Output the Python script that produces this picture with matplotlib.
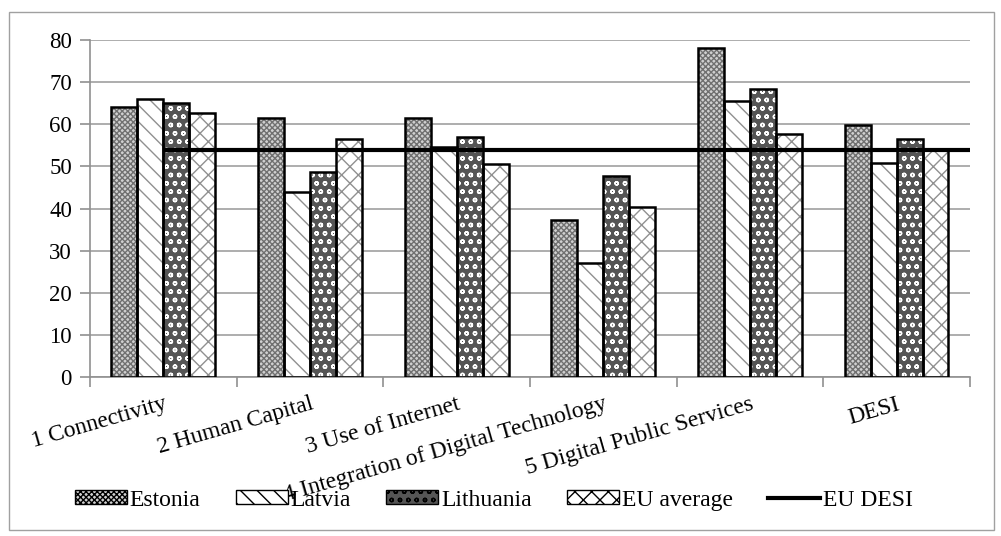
import numpy as np
import matplotlib.pyplot as plt
from matplotlib.patches import Rectangle
from matplotlib.lines import Line2D

FONT = 'Liberation Serif'
plt.rcParams['font.family'] = [FONT, 'DejaVu Serif']
plt.rcParams['hatch.linewidth'] = 1.0

# --- Data ---
categories = ['1 Connectivity', '2 Human Capital', '3 Use of Internet',
              '4 Integration of Digital Technology', '5 Digital Public Services', 'DESI']
estonia = [64.2, 61.4, 61.6, 37.2, 78.2, 59.8]
latvia = [66.0, 44.0, 54.7, 27.1, 65.4, 50.8]
lithuania = [65.1, 48.7, 56.9, 47.6, 68.3, 56.6]
eu_average = [62.7, 56.6, 50.5, 40.3, 57.6, 54.0]
eu_desi = 54.0

series = [('Estonia', estonia, '#d0d0d0', '#707070', 'xxxxxx'),
          ('Latvia', latvia, 'white', '#909090', '\\\\'),
          ('Lithuania', lithuania, '#555555', 'white', 'oo'),
          ('EU average', eu_average, 'white', '#909090', 'xx')]

fig = plt.figure(figsize=(10.01, 5.36), dpi=100)
ax = fig.add_axes([0.0899, 0.2966, 0.879, 0.6288])

x = np.arange(len(categories))
w = 0.177
for i, (name, vals, fc, hc, hatch) in enumerate(series):
    pos = x + (i - 1.5) * w
    ax.bar(pos, vals, w, color=fc, edgecolor=hc, hatch=hatch, linewidth=0, zorder=2)
    ax.bar(pos, vals, w, fill=False, edgecolor='black', linewidth=1.8, zorder=3)

ax.hlines(eu_desi, 0, len(categories) - 0.5, color='black', linewidth=3, zorder=4)

ax.set_xlim(-0.5, len(categories) - 0.5)
ax.set_ylim(0, 80)
ax.set_yticks(range(0, 81, 10))
ax.set_yticklabels([str(v) for v in range(0, 81, 10)], fontfamily=FONT, fontsize=16.5)
ax.yaxis.grid(True, color='#a0a0a0', linewidth=1.2, zorder=0)
ax.set_axisbelow(True)

ax.set_xticks(np.arange(-0.5, len(categories)), labels=[''] * (len(categories) + 1))
ax.set_xticks(x, labels=categories, minor=True, rotation=16, ha='right',
              rotation_mode='anchor', fontsize=17, fontfamily=FONT)
ax.tick_params(axis='x', which='major', length=7, color='#909090', width=1.2)
ax.tick_params(axis='x', which='minor', length=0, pad=12)
ax.tick_params(axis='y', length=7, color='#909090', width=1.2, pad=6)

for s in ['top', 'right']:
    ax.spines[s].set_visible(False)
for s in ['left', 'bottom']:
    ax.spines[s].set_color('#909090')
    ax.spines[s].set_linewidth(1.2)

handles = []
for name, vals, fc, hc, hatch in series:
    handles.append(Rectangle((0, 0), 1, 1, facecolor=fc, edgecolor='black',
                             hatch=hatch, linewidth=1))
handles.append(Line2D([0], [0], color='black', linewidth=3))
labels = [s[0] for s in series] + ['EU DESI']
fig.legend(handles, labels, loc='center', bbox_to_anchor=(0.4935, 0.067), ncol=5,
           frameon=False, prop={'family': FONT, 'size': 17}, handlelength=2.2,
           handleheight=0.5, handletextpad=0.12, columnspacing=1.5)

fig.patches.append(Rectangle((0.009, 0.012), 0.984, 0.965, transform=fig.transFigure,
                             fill=False, edgecolor='#a0a0a0', linewidth=1))

fig.savefig('out.png', dpi=100)
